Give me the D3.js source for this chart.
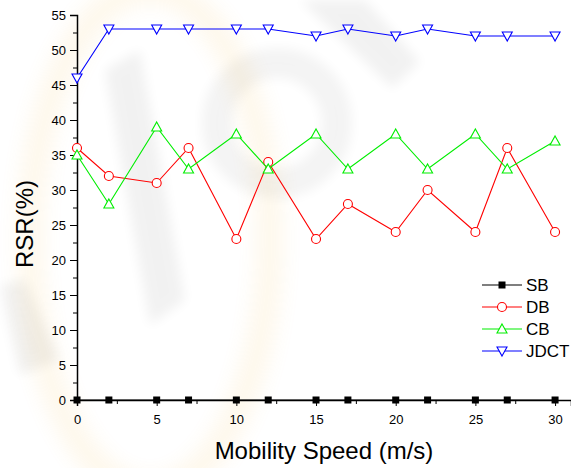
<!DOCTYPE html>
<html><head><meta charset="utf-8">
<script src="https://cdn.jsdelivr.net/npm/d3@7"></script>
<style>
html,body{margin:0;padding:0;background:#fff;}
svg{display:block;font-family:Arial,"Liberation Sans",sans-serif;}
</style></head>
<body>
<svg id="c" width="571" height="468"></svg>
<script>
const speeds = [0, 2, 5, 7, 10, 12, 15, 17, 20, 22, 25, 27, 30];
const sbValues = [0, 0, 0, 0, 0, 0, 0, 0, 0, 0, 0, 0, 0];
const dbValues = [36, 32, 31, 36, 23, 34, 23, 28, 24, 30, 24, 36, 24];
const cbValues = [35, 28, 39, 33, 38, 33, 38, 33, 38, 33, 38, 33, 37];
const jdctValues = [46, 53, 53, 53, 53, 53, 52, 53, 52, 53, 52, 52, 52];
const seriesNames = ["SB", "DB", "CB", "JDCT"];
const xTicks = [0, 5, 10, 15, 20, 25, 30];
const yTicks = [0, 5, 10, 15, 20, 25, 30, 35, 40, 45, 50, 55];
const xTitle = "Mobility Speed (m/s)";
const yTitle = "RSR(%)";

const svg = d3.select("#c");

// faint background watermark
const defs = svg.append("defs");
defs.append("filter").attr("id","blur").attr("filterUnits","userSpaceOnUse")
  .attr("x",-100).attr("y",-100).attr("width",800).attr("height",700)
  .append("feGaussianBlur").attr("stdDeviation", 6);
defs.append("filter").attr("id","blur2").attr("filterUnits","userSpaceOnUse")
  .attr("x",-100).attr("y",-100).attr("width",800).attr("height",700)
  .append("feGaussianBlur").attr("stdDeviation", 10);
const wm = svg.append("g").attr("pointer-events","none");
wm.append("ellipse").attr("cx", 150).attr("cy", 240).attr("rx", 120).attr("ry", 250)
  .attr("fill","none").attr("stroke","#f5b942").attr("stroke-width", 26).attr("opacity", 0.10).attr("filter","url(#blur2)");
const gshapes = [
  [[300,0],[365,0],[420,62],[392,88]],
  [[105,70],[140,50],[185,300],[150,325]],
  [[0,285],[25,280],[60,360],[20,375]]
];
gshapes.forEach(p => wm.append("path").attr("d", d3.line()(p) + "Z").attr("fill","#000").attr("opacity",0.05).attr("filter","url(#blur)"));
wm.append("circle").attr("cx", 277).attr("cy", 123).attr("r", 60).attr("fill","none")
  .attr("stroke","#000").attr("stroke-width", 30).attr("opacity", 0.045).attr("filter","url(#blur)");

const x = d3.scaleLinear().domain([0, 31]).range([77, 571]);
const y = d3.scaleLinear().domain([0, 55]).range([400, 15]);

// axes
const xAxis = svg.append("g").attr("transform", `translate(0,${y(0)})`)
  .call(d3.axisBottom(x).tickValues(xTicks).tickSizeOuter(0).tickSize(6).tickPadding(9).tickFormat(d3.format("d")));
xAxis.select(".domain").attr("stroke","#000").attr("stroke-width",1.5);
xAxis.selectAll("text").attr("font-size", 13).attr("fill","#000").attr("font-family","Arial, 'Liberation Sans', sans-serif");
svg.append("g").attr("transform", `translate(0,${y(0)})`)
  .call(d3.axisBottom(x).tickValues(d3.range(2.5, 31, 5)).tickSize(4).tickFormat(""))
  .call(g => g.select(".domain").remove());

const yAxis = svg.append("g").attr("transform", `translate(${x(0)},0)`)
  .call(d3.axisLeft(y).tickValues(yTicks).tickSizeOuter(0).tickSize(7).tickPadding(4).tickFormat(d3.format("d")));
yAxis.select(".domain").attr("stroke","#000").attr("stroke-width",1.5);
yAxis.selectAll("text").attr("font-size", 13).attr("fill","#000").attr("font-family","Arial, 'Liberation Sans', sans-serif");
svg.append("g").attr("transform", `translate(${x(0)},0)`)
  .call(d3.axisLeft(y).tickValues(d3.range(2.5, 55, 5)).tickSize(4).tickFormat(""))
  .call(g => g.select(".domain").remove());

svg.append("text").attr("x", 324).attr("y", 459).attr("text-anchor","middle")
  .attr("font-size", 24).attr("fill","#000").text(xTitle);
svg.append("text").attr("transform", "translate(33,224) rotate(-90)").attr("text-anchor","middle")
  .attr("font-size", 24).attr("fill","#000").text(yTitle);

const series = [
  {name: seriesNames[0], vals: sbValues, color: "#000000", sym: "square"},
  {name: seriesNames[1], vals: dbValues, color: "#ff0000", sym: "circle"},
  {name: seriesNames[2], vals: cbValues, color: "#00ee00", sym: "up"},
  {name: seriesNames[3], vals: jdctValues, color: "#0000ff", sym: "down"}
];

function drawMarker(g, sym, color, cx, cy) {
  if (sym === "square") {
    g.append("rect").attr("x", cx-3.5).attr("y", cy-3.5).attr("width", 7).attr("height", 7).attr("fill", color);
  } else if (sym === "circle") {
    g.append("circle").attr("cx", cx).attr("cy", cy).attr("r", 4.5).attr("fill","#fff").attr("stroke", color).attr("stroke-width", 1.1);
  } else if (sym === "up") {
    g.append("path").attr("d", `M${cx},${cy-5}L${cx+5},${cy+4}L${cx-5},${cy+4}Z`).attr("fill","#fff").attr("stroke", color).attr("stroke-width", 1.1);
  } else {
    g.append("path").attr("d", `M${cx},${cy+5}L${cx+5},${cy-4}L${cx-5},${cy-4}Z`).attr("fill","#fff").attr("stroke", color).attr("stroke-width", 1.1);
  }
}

const line = d3.line().x(d => x(d[0])).y(d => y(d[1]));
series.forEach(s => {
  const pts = speeds.map((v, i) => [v, s.vals[i]]);
  const g = svg.append("g");
  g.append("path").attr("d", line(pts)).attr("fill","none").attr("stroke", s.color).attr("stroke-width", 1.1);
  pts.forEach(p => drawMarker(g, s.sym, s.color, x(p[0]), y(p[1])));
});

// legend
const legendRows = [285, 307, 329, 351];
series.forEach((s, i) => {
  const g = svg.append("g");
  const ly = legendRows[i];
  g.append("line").attr("x1", 482).attr("x2", 522).attr("y1", ly).attr("y2", ly).attr("stroke", s.color).attr("stroke-width", 1.1);
  drawMarker(g, s.sym, s.color, 502, ly);
  g.append("text").attr("x", 526).attr("y", ly + 6).attr("font-size", 17).attr("fill","#000").text(s.name);
});
</script>
</body></html>
